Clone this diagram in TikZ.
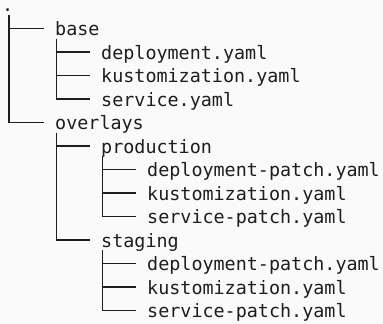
\documentclass[tikz,border=0pt]{standalone}
\usepackage{fontspec}
\setmonofont{DejaVu Sans Mono}
\usetikzlibrary{calc}
\definecolor{tree-ink}{HTML}{1E1E1E}
\definecolor{tree-bg}{HTML}{FAFAFA}

\begin{document}
\begin{tikzpicture}[x=1pt, y=-1pt, font=\ttfamily\fontsize{18.4}{23.5}\selectfont, text=tree-ink,
  entry/.style={anchor=base west, inner sep=0pt, text height=17pt, text depth=3pt},
  branch/.style={draw=tree-ink, line width=1.5pt}]
\pgfmathsetmacro{\rowsep}{23.5}
\pgfmathsetmacro{\levelsep}{46}

\fill[tree-bg] (0,0) rectangle (383,324);
\useasboundingbox (0,0) rectangle (383,324);

\node[entry, text height=8pt] (root) at (2, 12) {.};

\node[entry] (base) at (55, 12+\rowsep) {base};
\node[entry] (bdeploy) at (55+\levelsep, 12+2*\rowsep) {deployment.yaml};
\node[entry] (bkustom) at (55+\levelsep, 12+3*\rowsep) {kustomization.yaml};
\node[entry] (bservice) at (55+\levelsep, 12+4*\rowsep) {service.yaml};

\node[entry] (overlays) at (55, 12+5*\rowsep) {overlays};
\node[entry] (prod) at (55+\levelsep, 12+6*\rowsep) {production};
\node[entry] (pdeploy) at (55+2*\levelsep, 12+7*\rowsep) {deployment-patch.yaml};
\node[entry] (pkustom) at (55+2*\levelsep, 12+8*\rowsep) {kustomization.yaml};
\node[entry] (pservice) at (55+2*\levelsep, 12+9*\rowsep) {service-patch.yaml};
\node[entry] (stage) at (55+\levelsep, 12+10*\rowsep) {staging};
\node[entry] (sdeploy) at (55+2*\levelsep, 12+11*\rowsep) {deployment-patch.yaml};
\node[entry] (skustom) at (55+2*\levelsep, 12+12*\rowsep) {kustomization.yaml};
\node[entry] (sservice) at (55+2*\levelsep, 12+13*\rowsep) {service-patch.yaml};

% tree lines
\foreach \kid in {base, overlays}
  \draw[branch] ([xshift=7pt]root.south west) |- ([xshift=-11.5pt]\kid.west);
\foreach \kid in {bdeploy, bkustom, bservice}
  \draw[branch] ([xshift=1.5pt]base.south west) |- ([xshift=-11.5pt]\kid.west);
\foreach \kid in {prod, stage}
  \draw[branch] ([xshift=1.5pt]overlays.south west) |- ([xshift=-11.5pt]\kid.west);
\foreach \kid in {pdeploy, pkustom, pservice}
  \draw[branch] ([xshift=1.5pt]prod.south west) |- ([xshift=-11.5pt]\kid.west);
\foreach \kid in {sdeploy, skustom, sservice}
  \draw[branch] ([xshift=1.5pt]stage.south west) |- ([xshift=-11.5pt]\kid.west);
\end{tikzpicture}
\end{document}
